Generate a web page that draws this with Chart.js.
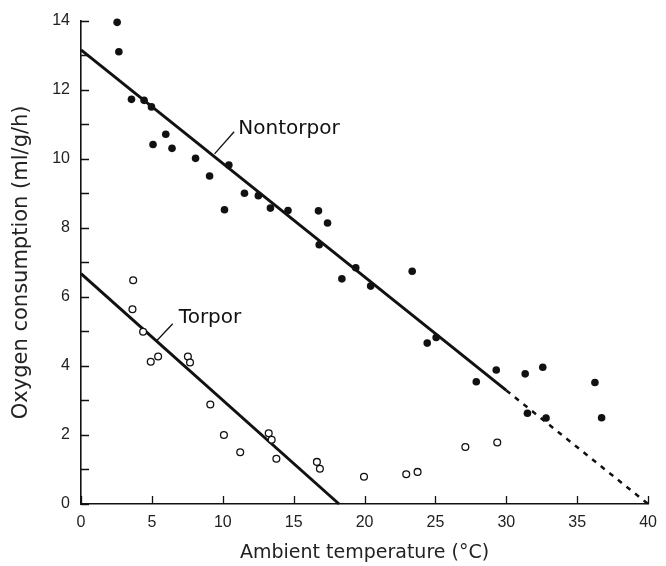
<!DOCTYPE html>
<html lang="en">
<head>
<meta charset="UTF-8">
<title>Oxygen consumption vs ambient temperature</title>
<style>
  * { margin: 0; padding: 0; box-sizing: border-box; }
  html, body { width: 666px; height: 566px; background: #fff; overflow: hidden; }
  .chart-box { position: relative; width: 666px; height: 566px; }
</style>
</head>
<body>
<div class="chart-box"><canvas id="o2Chart"></canvas></div>
<script src="https://cdn.jsdelivr.net/npm/chart.js"></script>
<script>
// nontorpor readings (filled dots)
const nontorporTemp = [2.55, 2.67, 3.56, 4.45, 4.97, 5.98, 5.08, 6.42, 8.08, 9.07, 10.43, 10.12, 11.53, 12.51, 13.36, 14.6, 16.75, 17.39, 16.8, 19.38, 18.4, 20.43, 23.36, 24.42, 25.05, 27.88, 29.29, 31.33, 32.57, 36.25, 31.49, 32.8, 36.72];
const nontorporO2 = [13.95, 13.1, 11.72, 11.69, 11.5, 10.71, 10.41, 10.3, 10.01, 9.5, 9.82, 8.52, 9.0, 8.93, 8.57, 8.5, 8.49, 8.14, 7.51, 6.84, 6.52, 6.31, 6.74, 4.66, 4.82, 3.54, 3.88, 3.77, 3.96, 3.52, 2.63, 2.49, 2.5];

// torpor readings (open circles)
const torporTemp = [3.68, 3.63, 4.38, 4.92, 5.44, 7.54, 7.69, 9.12, 10.08, 11.23, 13.24, 13.45, 13.78, 16.64, 16.85, 19.96, 22.94, 23.74, 27.11, 29.36];
const torporO2 = [6.48, 5.64, 4.99, 4.12, 4.27, 4.27, 4.1, 2.88, 2.0, 1.5, 2.05, 1.86, 1.31, 1.22, 1.02, 0.79, 0.86, 0.93, 1.65, 1.78];

// fitted lines (end points)
const nontorporFitTemp = [0, 30];
const nontorporFitO2 = [13.15, 3.29];
const nontorporExtTemp = [30, 40];
const nontorporExtO2 = [3.29, 0];
const torporFitTemp = [0, 18.2];
const torporFitO2 = [6.67, 0];

// curve labels and leader lines
const curveLabels = ['Nontorpor', 'Torpor'];
const labelTemp = [11.1, 6.9];
const labelO2 = [10.86, 5.39];
const leaderTemp = [[9.42, 10.8], [5.34, 6.47]];
const leaderO2 = [[10.14, 10.78], [4.73, 5.22]];

// tick labels
const xTickLabels = [0, 5, 10, 15, 20, 25, 30, 35, 40];
const yTickLabels = [0, 2, 4, 6, 8, 10, 12, 14];

const toPoints = (xs, ys) => xs.map((v, i) => ({ x: v, y: ys[i] }));

const lineSet = (xs, ys, width, dash) => ({
    data: toPoints(xs, ys),
    showLine: true,
    borderColor: '#111',
    borderWidth: width,
    borderDash: dash || [],
    pointRadius: 0,
    clip: false
});

const curveLabelPlugin = {
    id: 'curveLabels',
    afterDatasetsDraw(chart) {
        const { ctx, scales: { x, y } } = chart;
        ctx.save();
        ctx.font = '20px "DejaVu Sans"';
        ctx.fillStyle = '#111';
        ctx.textAlign = 'left';
        ctx.textBaseline = 'middle';
        curveLabels.forEach((t, i) => {
            ctx.fillText(t, x.getPixelForValue(labelTemp[i]), y.getPixelForValue(labelO2[i]));
        });
        ctx.restore();
    }
};

// tick marks point into the plot, like the printed figure
const innerTickPlugin = {
    id: 'innerTicks',
    afterDraw(chart) {
        const { ctx, chartArea, scales: { x, y } } = chart;
        ctx.save();
        ctx.strokeStyle = '#111';
        ctx.lineWidth = 1.3;
        ctx.beginPath();
        x.ticks.forEach(t => {
            const px = Math.round(x.getPixelForValue(t.value)) + 0.5;
            ctx.moveTo(px, chartArea.bottom);
            ctx.lineTo(px, chartArea.bottom - 8);
        });
        y.ticks.forEach(t => {
            const py = Math.round(y.getPixelForValue(t.value)) + 0.5;
            ctx.moveTo(chartArea.left, py);
            ctx.lineTo(chartArea.left + 8, py);
        });
        ctx.stroke();
        ctx.restore();
    }
};

const datasets = [
    {
        data: toPoints(nontorporTemp, nontorporO2),
        pointRadius: 3.8,
        pointBackgroundColor: '#111',
        pointBorderWidth: 0,
        clip: false
    },
    {
        data: toPoints(torporTemp, torporO2),
        pointRadius: 3.4,
        pointBackgroundColor: '#fff',
        pointBorderColor: '#111',
        pointBorderWidth: 1.3,
        clip: false
    },
    lineSet(nontorporFitTemp, nontorporFitO2, 3),
    lineSet(nontorporExtTemp, nontorporExtO2, 2.5, [5, 6]),
    lineSet(torporFitTemp, torporFitO2, 3),
    lineSet(leaderTemp[0], leaderO2[0], 1.3),
    lineSet(leaderTemp[1], leaderO2[1], 1.3)
];

const tickFont = { family: '"Liberation Sans"', size: 16 };

new Chart(document.getElementById('o2Chart'), {
    type: 'scatter',
    data: { datasets },
    options: {
        responsive: true,
        maintainAspectRatio: false,
        devicePixelRatio: 1,
        animation: false,
        layout: { padding: { top: 20, right: 6, left: 0, bottom: 0 } },
        plugins: { legend: { display: false }, tooltip: { enabled: false } },
        scales: {
            x: {
                type: 'linear',
                min: 0,
                max: 40,
                afterFit: s => { s.height = 62; },
                afterBuildTicks: s => { s.ticks = xTickLabels.map(v => ({ value: v })); },
                ticks: { font: tickFont, color: '#222', padding: 9, maxRotation: 0 },
                grid: { drawOnChartArea: false, drawTicks: false },
                border: { display: true, color: '#111', width: 1.6 },
                title: {
                    display: true,
                    text: 'Ambient temperature (°C)',
                    color: '#222',
                    font: { family: '"DejaVu Sans"', size: 19 },
                    padding: { top: 0, bottom: 2 }
                }
            },
            y: {
                type: 'linear',
                min: 0,
                max: 14,
                afterFit: s => { s.width = 81; },
                ticks: {
                    stepSize: 1,
                    font: tickFont,
                    color: '#222',
                    padding: 11,
                    callback: v => yTickLabels.includes(v) ? String(v) : ''
                },
                grid: { drawOnChartArea: false, drawTicks: false },
                border: { display: true, color: '#111', width: 1.6 },
                title: {
                    display: true,
                    text: 'Oxygen consumption (ml/g/h)',
                    color: '#222',
                    font: { family: '"DejaVu Sans"', size: 21 },
                    padding: { top: 9, bottom: 0 }
                }
            }
        }
    },
    plugins: [curveLabelPlugin, innerTickPlugin]
});
</script>
</body>
</html>
